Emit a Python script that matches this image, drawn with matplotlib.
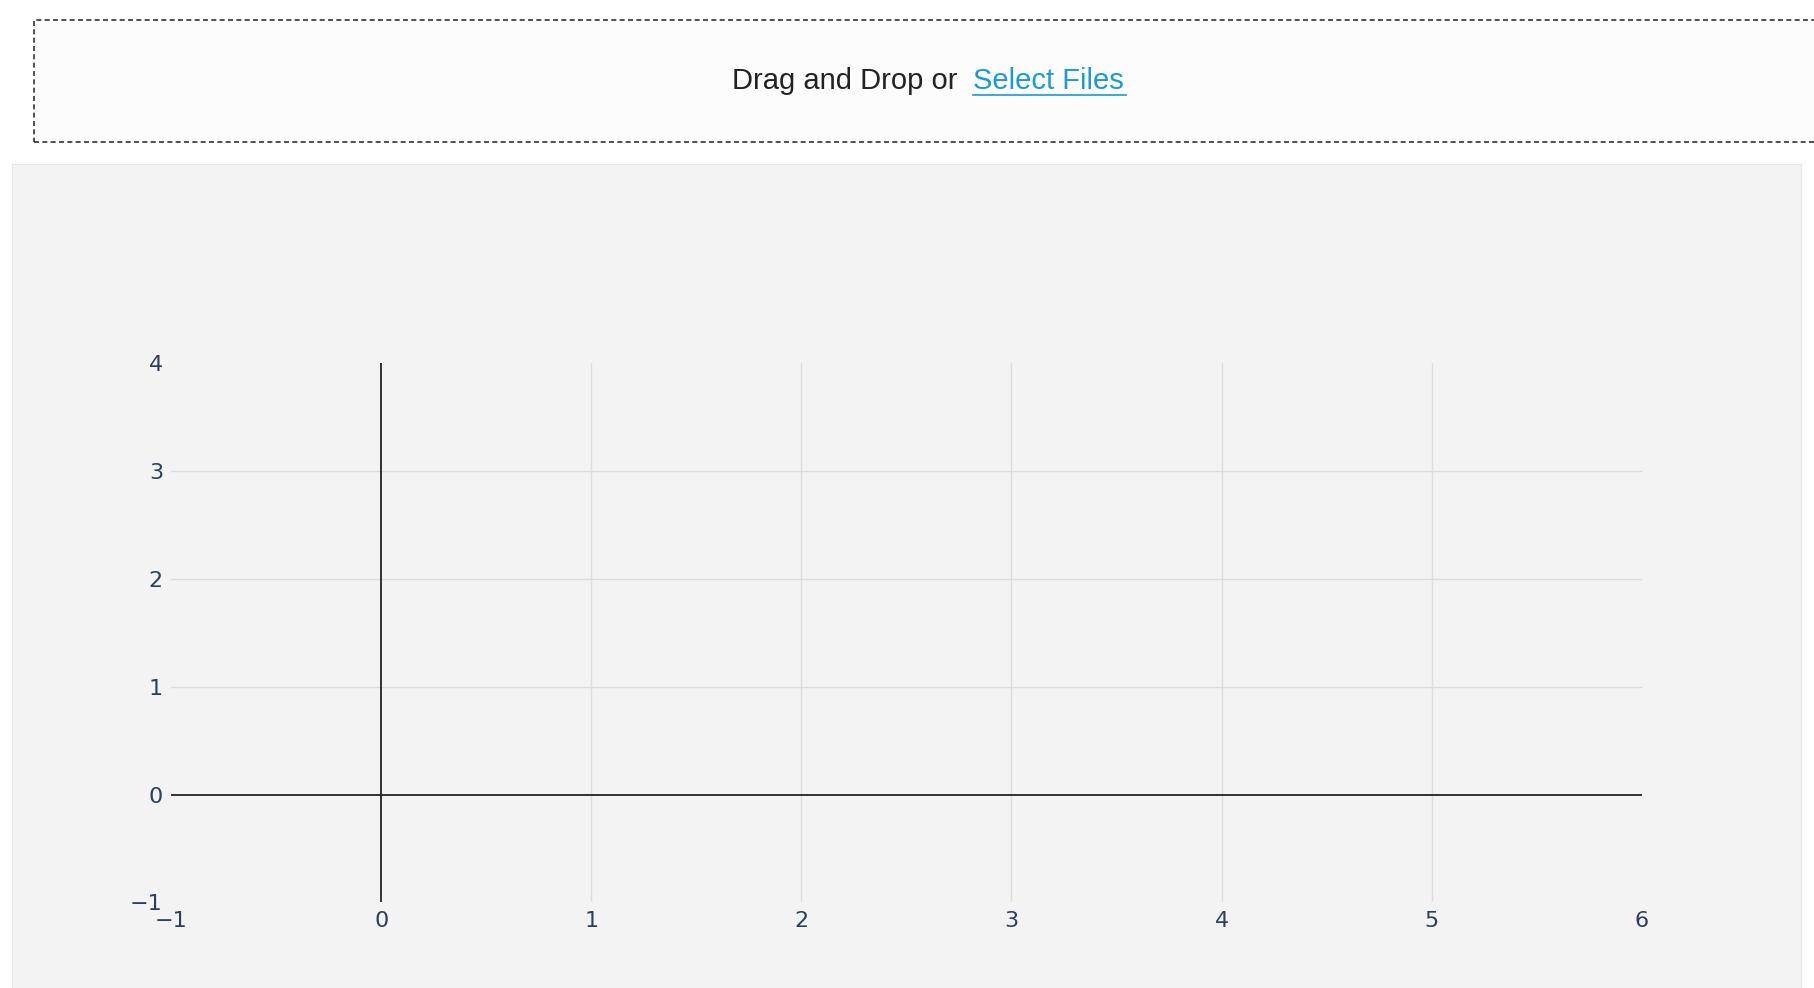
import matplotlib
matplotlib.use("Agg")
import matplotlib.pyplot as plt
from matplotlib.patches import Rectangle

x_ticks = [-1, 0, 1, 2, 3, 4, 5, 6]
y_ticks = [-1, 0, 1, 2, 3, 4]
x_range = (-1, 6)
y_range = (-1, 4)

W, H = 1568, 854
fig = plt.figure(figsize=(18.14, 9.88), dpi=100)
fig.patch.set_facecolor("white")

bg = fig.add_axes([10/W, 0, 1547/W, 1-142/H], zorder=0)
bg.set_facecolor("#f3f3f3")
bg.set_xticks([]); bg.set_yticks([])
for s in bg.spines.values():
    s.set_color("#e6e6e6")

fig.patches.append(Rectangle((29/W, 1-123/H), 1.2, 106/H, transform=fig.transFigure,
                             facecolor="#fcfcfc", edgecolor="#333333", linestyle=(0, (3, 2)),
                             linewidth=1.2, zorder=0))
fig.text(633/W, 1-70/H, "Drag and Drop or", ha="left", va="center", fontsize=21,
         color="#222222", family="Liberation Sans")
fig.text(841/W, 1-70/H, "Select Files", ha="left", va="center", fontsize=21,
         color="#1a9bd7", family="Liberation Sans")
fig.lines.append(plt.Line2D([841/W, 973/W], [1-82/H, 1-82/H], transform=fig.transFigure,
                            color="#1a9bd7", linewidth=1.2))

ax = fig.add_axes([148/W, 1-780/H, (1419-148)/W, (780-314)/H], zorder=5)
ax.set_facecolor("none")
ax.set_xlim(*x_range)
ax.set_ylim(*y_range)
ax.set_xticks(x_ticks)
ax.set_yticks(y_ticks)
ax.set_xticklabels(["\u22121" if v < 0 else str(v) for v in x_ticks])
ax.set_yticklabels(["\u22121" if v < 0 else str(v) for v in y_ticks])
for s in ax.spines.values():
    s.set_visible(False)
ax.tick_params(length=0, labelsize=16, colors="#2a3f5f", pad=6)
for v in x_ticks[2:-1]:
    ax.axvline(v, color="#dcdcdc", lw=1, zorder=1)
for v in y_ticks[2:-1]:
    ax.axhline(v, color="#dcdcdc", lw=1, zorder=1)
ax.axvline(0, color="#222222", lw=1.3, zorder=2)
ax.axhline(0, color="#222222", lw=1.3, zorder=2)

fig.savefig("out.png", dpi=100)
